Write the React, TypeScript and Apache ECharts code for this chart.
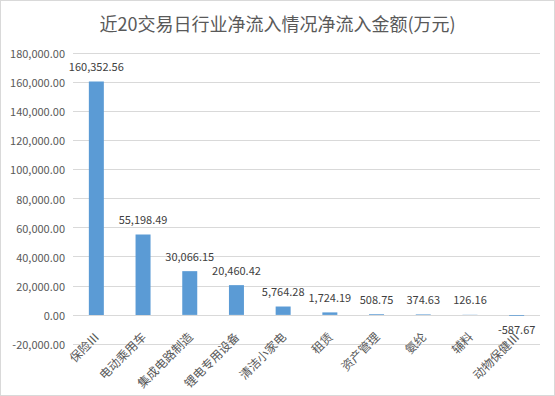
import React, { useEffect, useRef } from "react";
import * as echarts from "echarts";

const titleText = "近20交易日行业净流入情况净流入金额(万元)";
const categories = ["保险Ⅲ", "电动乘用车", "集成电路制造", "锂电专用设备", "清洁小家电", "租赁", "资产管理", "氨纶", "辅料", "动物保健Ⅲ"];
const values = [160352.56, 55198.49, 30066.15, 20460.42, 5764.28, 1724.19, 508.75, 374.63, 126.16, -587.67];
const yMin = -20000;
const yMax = 180000;
const yInterval = 20000;

const fmt = (v: number) =>
  v.toLocaleString("en-US", { minimumFractionDigits: 2, maximumFractionDigits: 2 });

const FONT = "'Noto Sans CJK SC', 'Noto Sans', sans-serif";

export default function App() {
  const ref = useRef<HTMLDivElement>(null);
  useEffect(() => {
    if (!ref.current) return;
    const chart = echarts.init(ref.current, undefined, { renderer: "svg" });
    chart.setOption({
      animation: false,
      backgroundColor: "#ffffff",
      title: {
        text: titleText,
        left: "center",
        top: 8,
        textStyle: { fontFamily: FONT, fontSize: 18, fontWeight: "normal", color: "#595959" },
      },
      grid: { left: 72, right: 14, top: 52, bottom: 51, containLabel: false, outerBoundsMode: "none" },
      xAxis: {
        type: "category",
        data: categories,
        axisLine: { show: false },
        axisTick: { show: false },
        axisLabel: {
          rotate: 45,
          interval: 0,
          margin: -10,
          fontFamily: FONT,
          fontSize: 12,
          lineHeight: 12,
          color: "#595959",
        },
      },
      yAxis: {
        type: "value",
        min: yMin,
        max: yMax,
        interval: yInterval,
        axisLine: { show: false },
        axisTick: { show: false },
        splitLine: { lineStyle: { color: "#d9d9d9", width: 1 } },
        axisLabel: {
          formatter: (v: number) => fmt(v),
          fontFamily: FONT,
          fontSize: 11,
          color: "#595959",
          margin: 8,
        },
      },
      series: [
        {
          type: "bar",
          barWidth: 15,
          data: values.map((v) => ({
            value: v,
            label: v < 0 ? { position: "bottom", distance: 8 } : undefined,
          })),
          itemStyle: { color: "#5b9bd5" },
          label: {
            show: true,
            position: "top",
            distance: 10,
            formatter: (p: any) => fmt(p.value),
            fontFamily: FONT,
            fontSize: 11,
            color: "#404040",
          },
        },
      ],
    });
    return () => chart.dispose();
  }, []);
  return (
    <div
      style={{
        position: "fixed",
        left: 0,
        top: 0,
        width: 555,
        height: 396,
        boxSizing: "border-box",
        border: "1px solid #d9d9d9",
        background: "#fff",
      }}
    >
      <div ref={ref} style={{ width: 553, height: 394 }} />
    </div>
  );
}
